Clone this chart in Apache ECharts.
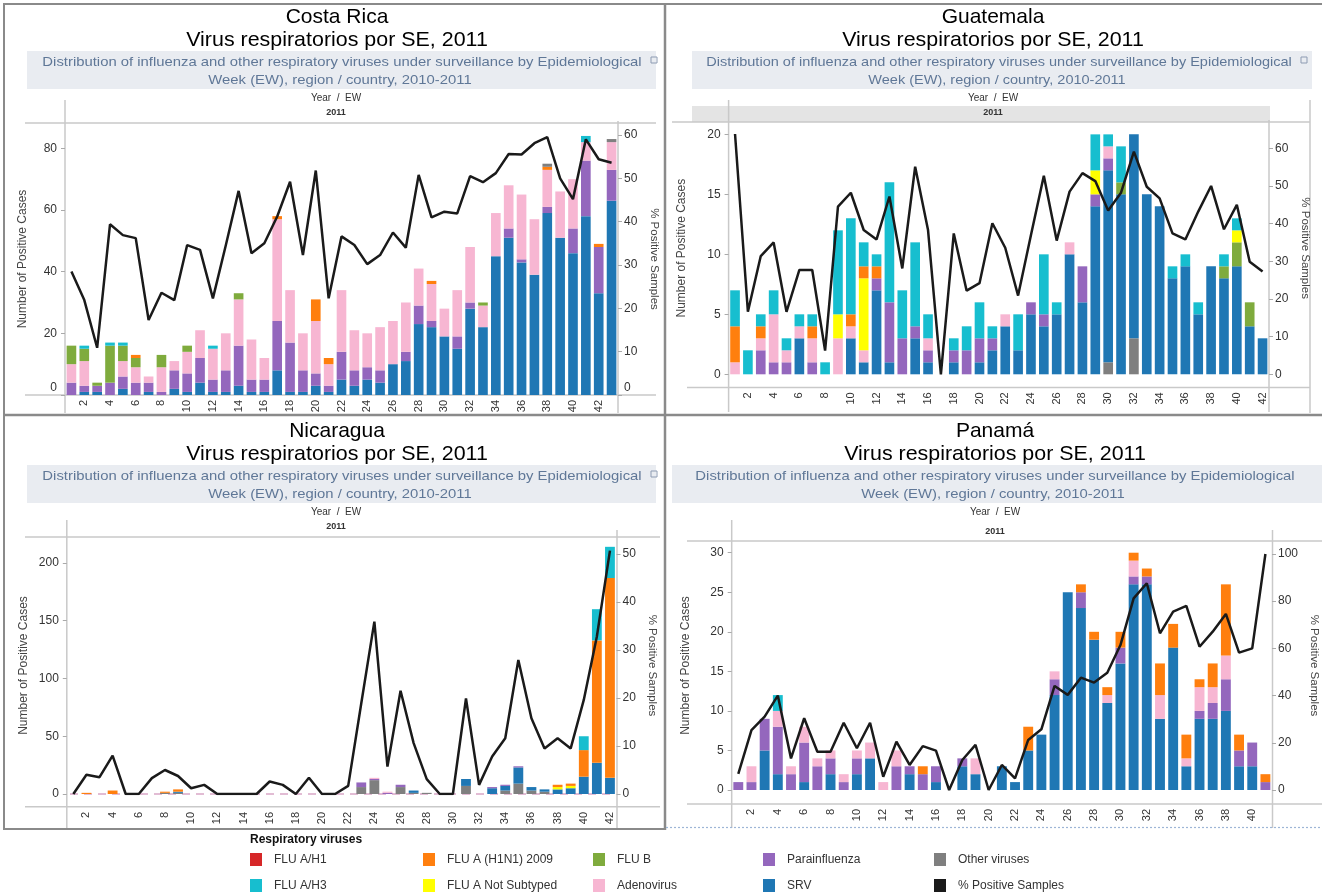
<!DOCTYPE html>
<html><head><meta charset="utf-8">
<script src="https://cdn.jsdelivr.net/npm/echarts@6/dist/echarts.min.js"></script>
<style>html,body{margin:0;padding:0;background:#fff}#c{width:1322px;height:896px}</style>
</head><body><div id="c"></div>
<script>
// ---------- categories (epidemiological weeks) ----------
const weeks = [1,2,3,4,5,6,7,8,9,10,11,12,13,14,15,16,17,18,19,20,21,22,23,24,25,26,27,28,29,30,31,32,33,34,35,36,37,38,39,40,41,42,43];

// ---------- Costa Rica (weeks 1-43) ----------
const cr_srv   = [0,1,1,0,2,0,1,0,2,1, 4,1,1,3,1,1,8,1,1,3, 1,5,3,5,4,10,11,23,22,19, 15,28,22,45,51,43,39,59,51,46, 58,33,63];
const cr_para  = [4,2,2,4,4,4,3,1,6,6, 8,4,7,13,4,4,16,16,7,4, 2,9,5,4,4,0,3,6,2,0, 4,2,0,0,3,1,0,2,0,8, 18,15,10];
const cr_adeno = [6,8,0,0,5,5,2,8,3,7, 9,10,12,15,13,7,33,17,12,17, 7,20,13,11,14,14,16,12,12,9, 15,18,7,14,14,21,18,12,15,16, 6,0,9];
const cr_flub  = [6,4,1,12,5,3,0,4,0,2, 0,0,0,2,0,0,0,0,0,0, 0,0,0,0,0,0,0,0,0,0, 0,0,1,0,0,0,0,0,0,0, 0,0,0];
const cr_h1n1  = [0,0,0,0,0,1,0,0,0,0, 0,0,0,0,0,0,1,0,0,7, 2,0,0,0,0,0,0,0,1,0, 0,0,0,0,0,0,0,1,0,0, 0,1,0];
const cr_h3    = [0,1,0,1,1,0,0,0,0,0, 0,1,0,0,0,0,0,0,0,0, 0,0,0,0,0,0,0,0,0,0, 0,0,0,0,0,0,0,0,0,0, 2,0,0];
const cr_h1    = [0,0,0,0,0,0,0,0,0,0, 0,0,0,0,0,0,0,0,0,0, 0,0,0,0,0,0,0,0,0,0, 0,0,0,0,0,0,0,0,0,0, 0,0,0];
const cr_otherTop = [0,0,0,0,0,0,0,0,0,0, 0,0,0,0,0,0,0,0,0,0, 0,0,0,0,0,0,0,0,0,0, 0,0,0,0,0,0,0,1,0,0, 0,0,1];
const cr_pos   = [28.5,21.9,10.9,39.4,36.9,36.2,17.3,23.6,21.9,34.6, 33.5,22.3,34.5,47.1,32.7,35,41.2,49.2,32.3,51.8, 22.3,36.6,34.6,30.2,32.3,37.5,34,50.8,41,42.3, 41.9,50.5,49.1,51.2,55.6,55.5,58.1,59.5,50,45.2, 59,54.4,53.6];

// ---------- Guatemala (weeks 1-42) ----------
const gt_srv   = [0,0,0,0,0,3,0,0,0,3, 1,7,1,0,3,1,0,1,0,1, 2,4,2,5,4,5,10,6,14,16, 15,17,15,14,8,9,5,9,8,9, 4,3];
const gt_para  = [0,0,2,1,1,0,1,0,0,0, 0,1,5,3,1,1,0,1,2,2, 1,0,0,1,1,0,0,3,1,1, 0,0,0,0,0,0,0,0,0,0, 0,0];
const gt_adeno = [1,0,1,4,1,1,2,0,3,1, 1,0,0,0,0,1,0,0,0,0, 0,1,0,0,0,0,1,0,0,1, 0,0,0,0,0,0,0,0,0,0, 0,0];
const gt_flub  = [0,0,0,0,0,0,0,0,0,0, 0,0,0,0,0,0,0,0,0,0, 0,0,0,0,0,0,0,0,0,0, 1,0,0,0,0,0,0,0,1,2, 2,0];
const gt_notsub= [0,0,0,0,0,0,0,0,2,0, 6,0,0,0,0,0,0,0,0,0, 0,0,0,0,0,0,0,0,2,0, 0,0,0,0,0,0,0,0,0,1, 0,0];
const gt_h1n1  = [3,0,1,0,0,0,1,0,0,1, 1,1,0,0,0,0,0,0,0,0, 0,0,0,0,0,0,0,0,0,0, 0,0,0,0,0,0,0,0,0,0, 0,0];
const gt_h3    = [3,2,1,2,1,1,1,1,7,8, 2,1,10,4,7,2,0,1,2,3, 1,0,3,0,5,1,0,0,3,1, 3,0,0,0,1,1,1,0,1,1, 0,0];
const gt_other = [0,0,0,0,0,0,0,0,0,0, 0,0,0,0,0,0,0,0,0,0, 0,0,0,0,0,0,0,0,0,1, 0,3,0,0,0,0,0,0,0,0, 0,0];
const gt_pos   = [63.8,16.6,31.4,35,16.6,27.7,27.7,6.3,44.5,48.2, 38.3,35.8,47.2,28.1,55.1,38.3,0,37.4,22.2,24.2, 40.1,33.6,20.9,37,52.7,35.5,48.5,53.4,51.3,43.5, 48.2,59.1,49.8,46.7,37.4,35.8,43.2,50,38.5,45, 29.9,27.3];

// ---------- Nicaragua (weeks 1-42) ----------
const ni_other = [0,0,0,0,0,0,0,1,1,0, 0,0,0,0,0,0,0,0,0,0, 0,0,6,12,0,6,1,1,0,0, 7,0,0,3,9,3,2,0,0,0, 0,0];
const ni_srv   = [0,0,0,0,0,0,0,0,1,0, 0,0,0,0,0,0,0,0,0,0, 0,0,0,0,0,0,2,0,0,0, 6,0,5,4,14,3,2,4,5,15, 27,14];
const ni_para  = [0,0,0,0,0,0,0,0,0,0, 0,0,0,0,0,0,0,0,0,0, 0,0,4,1,1,2,0,0,0,0, 0,0,1,1,1,0,0,0,0,0, 0,0];
const ni_adeno = [0,0,0,0,0,0,0,0,0,0, 0,0,0,0,0,0,0,0,0,0, 0,0,0,1,1,0,0,0,0,0, 0,0,0,0,0,0,0,0,0,0, 0,0];
const ni_notsub= [0,0,0,0,0,0,0,0,0,0, 0,0,0,0,0,0,0,0,0,0, 0,0,0,0,0,0,0,0,0,0, 0,0,0,0,0,0,0,2,2,0, 0,0];
const ni_h1n1  = [0,1,0,3,0,0,0,1,2,0, 0,0,0,0,0,0,0,0,0,0, 0,0,0,0,0,0,0,0,0,0, 0,0,0,0,0,0,0,2,2,23, 106,173];
const ni_h3    = [0,0,0,0,0,0,0,0,0,0, 0,0,0,0,0,0,0,0,0,0, 0,0,0,0,0,0,0,0,0,0, 0,0,0,0,0,0,0,0,0,12, 27,27];
const ni_pos   = [0,4,3.5,8,0,0,3.3,5,3.75,1.2, 1.9,0,0,0,0,2.6,1.9,0,3.4,0, 0,1.7,18.9,35.9,5.7,21.5,10.6,3.1,0,0, 19.9,1.9,7.8,11.6,27.9,15.8,9.5,11.6,9.5,19.6, 32.8,50.7];

// ---------- Panamá (weeks 1-41) ----------
const pa_srv   = [0,0,5,2,0,1,0,2,0,2, 4,0,0,2,0,1,0,3,2,0, 3,1,5,7,12,25,23,19,11,16, 26,26,9,18,3,9,9,10,3,3, 0];
const pa_para  = [1,1,4,6,2,5,3,2,1,2, 0,0,3,1,2,2,0,1,0,0, 0,0,0,0,2,0,2,0,0,2, 1,1,0,0,0,1,2,4,2,3, 1];
const pa_adeno = [0,2,0,2,1,2,1,1,1,1, 2,1,2,0,0,0,0,0,2,0, 0,0,0,0,1,0,0,0,1,0, 2,0,3,0,1,3,2,3,0,0, 0];
const pa_h1n1  = [0,0,0,0,0,0,0,0,0,0, 0,0,0,0,1,0,0,0,0,0, 0,0,3,0,0,0,1,1,1,2, 1,1,4,3,3,1,3,9,2,0, 1];
const pa_h3    = [0,0,0,2,0,0,0,0,0,0, 0,0,0,0,0,0,0,0,0,0, 0,0,0,0,0,0,0,0,0,0, 0,0,0,0,0,0,0,0,0,0, 0];
const pa_pos   = [6.8,25.4,31.1,40,13.4,30.4,16.2,16.2,28.5,17.7, 28.5,5.6,20.5,10.6,18.6,16.7,0,12.7,19.1,0, 10.6,4.9,21.2,25.7,44.1,40.3,47.6,45.5,49.7,61.4, 81.2,87.6,66.4,75.6,78,60.7,67.1,74.6,58.2,60, 100];

// ---------- tick labels ----------
const cr_leftTicks = [0,20,40,60,80],  cr_rightTicks = [0,10,20,30,40,50,60];
const gt_leftTicks = [0,5,10,15,20],   gt_rightTicks = [0,10,20,30,40,50,60];
const ni_leftTicks = [0,50,100,150,200], ni_rightTicks = [0,10,20,30,40,50];
const pa_leftTicks = [0,5,10,15,20,25,30], pa_rightTicks = [0,20,40,60,80,100];

// ---------- series definitions (bottom -> top of stack) ----------
const stackOrder = [
  ['Other viruses','other','#7f7f7f'],
  ['SRV','srv','#1f77b4'],
  ['Parainfluenza','para','#9467bd'],
  ['Adenovirus','adeno','#f7b6d2'],
  ['FLU B','flub','#7fab3d'],
  ['FLU A Not Subtyped','notsub','#ffff00'],
  ['FLU A (H1N1) 2009','h1n1','#ff7f0e'],
  ['FLU A/H3','h3','#17becf'],
  ['FLU A/H1','h1','#d62728'],
  ['Other viruses','otherTop','#7f7f7f']
];

const FONT = '"Liberation Sans", Arial, sans-serif';

const panels = [
  { n: 43, data: {srv:cr_srv, para:cr_para, adeno:cr_adeno, flub:cr_flub, h1n1:cr_h1n1, h3:cr_h3, h1:cr_h1, otherTop:cr_otherTop}, pos: cr_pos,
    grid: {left:65, top:123, width:553, height:272}, lmax:88.2, rmax:62.77, lt:cr_leftTicks, rt:cr_rightTicks,
    xoff:0, shiftZero:true, lgap:36, rgap:30 },
  { n: 42, data: {other:gt_other, srv:gt_srv, para:gt_para, adeno:gt_adeno, flub:gt_flub, notsub:gt_notsub, h1n1:gt_h1n1, h3:gt_h3}, pos: gt_pos,
    grid: {left:728.6, top:122, width:540.4, height:252.3}, lmax:21.03, rmax:66.98, lt:gt_leftTicks, rt:gt_rightTicks,
    xoff:13, shiftZero:false, lgap:41, rgap:30 },
  { n: 42, data: {other:ni_other, srv:ni_srv, para:ni_para, adeno:ni_adeno, notsub:ni_notsub, h1n1:ni_h1n1, h3:ni_h3}, pos: ni_pos,
    grid: {left:66.8, top:537, width:549.7, height:257}, lmax:222.5, rmax:53.54, lt:ni_leftTicks, rt:ni_rightTicks,
    xoff:13, shiftZero:false, lgap:37, rgap:30 },
  { n: 41, data: {srv:pa_srv, para:pa_para, adeno:pa_adeno, h1n1:pa_h1n1, h3:pa_h3}, pos: pa_pos,
    grid: {left:731.7, top:541, width:540.3, height:249}, lmax:31.48, rmax:105.5, lt:pa_leftTicks, rt:pa_rightTicks,
    xoff:14, shiftZero:false, lgap:40, rgap:36 }
];

const grids = [], xAxes = [], yAxes = [], series = [];
panels.forEach((p, i) => {
  grids.push(Object.assign({containLabel:false}, p.grid));
  xAxes.push({
    type:'category', gridIndex:i, data: weeks.slice(0, p.n), offset:p.xoff,
    axisLine:{show:false}, axisTick:{show:false}, splitLine:{show:false},
    axisLabel:{rotate:90, interval:(idx)=> idx % 2 === 1, fontSize:11, color:'#333', margin:5, fontFamily:FONT}
  });
  const zeroFmt = (v) => (p.shiftZero && v === 0) ? '{z|0}' : String(v);
  const rich = {z:{fontSize:12, color:'#333', fontFamily:FONT, padding:[0,0,14,0]}};
  yAxes.push({
    type:'value', gridIndex:i, position:'left', min:0, max:p.lmax,
    axisLine:{show:false}, splitLine:{show:false},
    axisTick:{show:true, length:4, customValues:p.lt, lineStyle:{color:'#aaa'}},
    axisLabel:{customValues:p.lt, fontSize:12, color:'#333', margin:8, fontFamily:FONT, formatter:zeroFmt, rich:rich},
    name:'Number of Positive Cases', nameLocation:'middle', nameGap:p.lgap, nameRotate:90,
    nameTextStyle:{fontSize:12, color:'#444', fontFamily:FONT}
  });
  yAxes.push({
    type:'value', gridIndex:i, position:'right', min:0, max:p.rmax,
    axisLine:{show:false}, splitLine:{show:false},
    axisTick:{show:true, length:4, customValues:p.rt, lineStyle:{color:'#aaa'}},
    axisLabel:{customValues:p.rt, fontSize:12, color:'#333', margin:6, fontFamily:FONT, formatter:zeroFmt, rich:rich},
    name:'% Positive Samples', nameLocation:'middle', nameGap:p.rgap, nameRotate:-90,
    nameTextStyle:{fontSize:11.5, color:'#444', fontFamily:FONT}
  });
  stackOrder.forEach(([name, key, color]) => {
    const arr = p.data[key];
    if (!arr) return;
    series.push({
      type:'bar', name:name, xAxisIndex:i, yAxisIndex:2*i, stack:'s'+i,
      barWidth:'75%', data:arr, itemStyle:{color:color}, emphasis:{disabled:true}
    });
  });
  series.push({
    type:'line', name:'% Positive Samples', xAxisIndex:i, yAxisIndex:2*i+1,
    data:p.pos, symbol:'none', color:'#1a1a1a', itemStyle:{color:'#1a1a1a'},
    lineStyle:{color:'#1a1a1a', width:2.5}, z:5, emphasis:{disabled:true}
  });
});

// ---------- legend (5 columns x 2 rows) ----------
const legendCols = [
  ['FLU A/H1','FLU A/H3'],
  ['FLU A (H1N1) 2009','FLU A Not Subtyped'],
  ['FLU B','Adenovirus'],
  ['Parainfluenza','SRV'],
  ['Other viruses','% Positive Samples']
];
const legendX = [250, 423, 593, 763, 934];
const legends = legendCols.map((d, k) => ({
  data:d, orient:'vertical', left:legendX[k], top:853, icon:'rect',
  itemWidth:12, itemHeight:13, itemGap:13, padding:0, selectedMode:false,
  textStyle:{fontSize:12, color:'#333', fontFamily:FONT, padding:[0,0,0,7]}
}));

// ---------- decorations ----------
const G = [];
function line(x1,y1,x2,y2,stroke,w,dash){ G.push({type:'line', silent:true, shape:{x1,y1,x2,y2}, style:{stroke, lineWidth:w, lineDash:dash||null}}); }
function rect(x,y,w,h,fill){ G.push({type:'rect', silent:true, shape:{x,y,width:w,height:h}, style:{fill}}); }
function text(t,x,y,font,fill,align,sx){ G.push({type:'text', silent:true, x:x, y:y, scaleX:sx||1, style:{text:t, x:0, y:0, font, fill, align:align||'center', verticalAlign:'middle'}}); }

const headers = [
  {title:'Costa Rica', cx:337, y0:0,   bx:27,  bw:629, lc:342, sc:1.1,  link:651, sub:336, y2011:113, bandYear:false},
  {title:'Guatemala',  cx:993, y0:0,   bx:692, bw:620, lc:999, sc:1.075, link:1301, sub:993, y2011:113, bandYear:true},
  {title:'Nicaragua',  cx:337, y0:414, bx:27,  bw:629, lc:342, sc:1.1,  link:651, sub:336, y2011:113, bandYear:false},
  {title:'Panamá',     cx:995, y0:414, bx:672, bw:650, lc:995, sc:1.1,  link:null, sub:995, y2011:118, bandYear:false}
];
headers.forEach(h => {
  const o = h.y0;
  text(h.title, h.cx, 17 + o, '21px ' + FONT, '#000', 'center', 1.0);
  text('Virus respiratorios por SE, 2011', h.cx, 40 + o, '21px ' + FONT, '#000', 'center', 1.02);
  rect(h.bx, 51 + o, h.bw, 38, '#e9ecf1');
  text('Distribution of influenza and other respiratory viruses under surveillance by Epidemiological', h.lc, 62 + o, '13.5px ' + FONT, '#5f7797', 'center', h.sc);
  text('Week (EW), region / country, 2010-2011', h.lc - 2, 80 + o, '13.5px ' + FONT, '#5f7797', 'center', h.sc);
  if (h.link) G.push({type:'rect', silent:true, shape:{x:h.link, y:57 + o, width:6, height:6}, style:{fill:'none', stroke:'#8d9bb2', lineWidth:1}});
  if (h.bandYear) rect(692, 106 + o, 578, 16, '#e4e4e4');
  text('Year  /  EW', h.sub, 98 + o, '10px ' + FONT, '#333');
  text('2011', h.sub, h.y2011 + o, 'bold 9px ' + FONT, '#333');
});

// pane lines (Tableau-style)
const paneC = '#c9c9c9';
// Costa Rica
line(25,123,656,123,paneC,1.5); line(25,395,656,395,paneC,1.5);
line(65,100,65,413,paneC,1.5); line(618,121,618,413,paneC,1.5);
// Guatemala
line(672,122,1310,122,paneC,1.5); line(687,387.5,1310,387.5,paneC,1.5);
line(728.6,100,728.6,412,paneC,1.5); line(1269,120,1269,412,paneC,1.5);
line(1310,100,1310,413,paneC,1.5);
// Nicaragua
line(25,537,660,537,paneC,1.5); line(25,806.7,660,806.7,paneC,1.5);
line(66.8,520,66.8,828,paneC,1.5); line(617,530,617,828,paneC,1.5);
line(70,794,612,794,'#d9a6c6',1.5,[8,6]);
// Panamá
line(687,541,1322,541,paneC,1.5); line(687,804,1322,804,paneC,1.5);
line(731.7,520,731.7,828,paneC,1.5); line(1272.5,530,1272.5,828,paneC,1.5);

// panel frames
const fr = '#8a8a8a';
line(3,4,1322,4,fr,2);
line(4,4,4,830,fr,2);
line(665,4,665,830,fr,2.5);
line(4,415,1322,415,fr,2.5);
line(4,829,665,829,fr,2);
line(666,827.5,1322,827.5,'#9db5d6',1.2,[2,2]);

// legend title
text('Respiratory viruses', 250, 840, 'bold 12px ' + FONT, '#111', 'left');

const chart = echarts.init(document.getElementById('c'), null, {renderer:'canvas'});
chart.setOption({
  animation:false,
  backgroundColor:'#fff',
  grid:grids, xAxis:xAxes, yAxis:yAxes, series:series,
  legend:legends,
  graphic:{elements:G}
});
</script>
</body></html>
